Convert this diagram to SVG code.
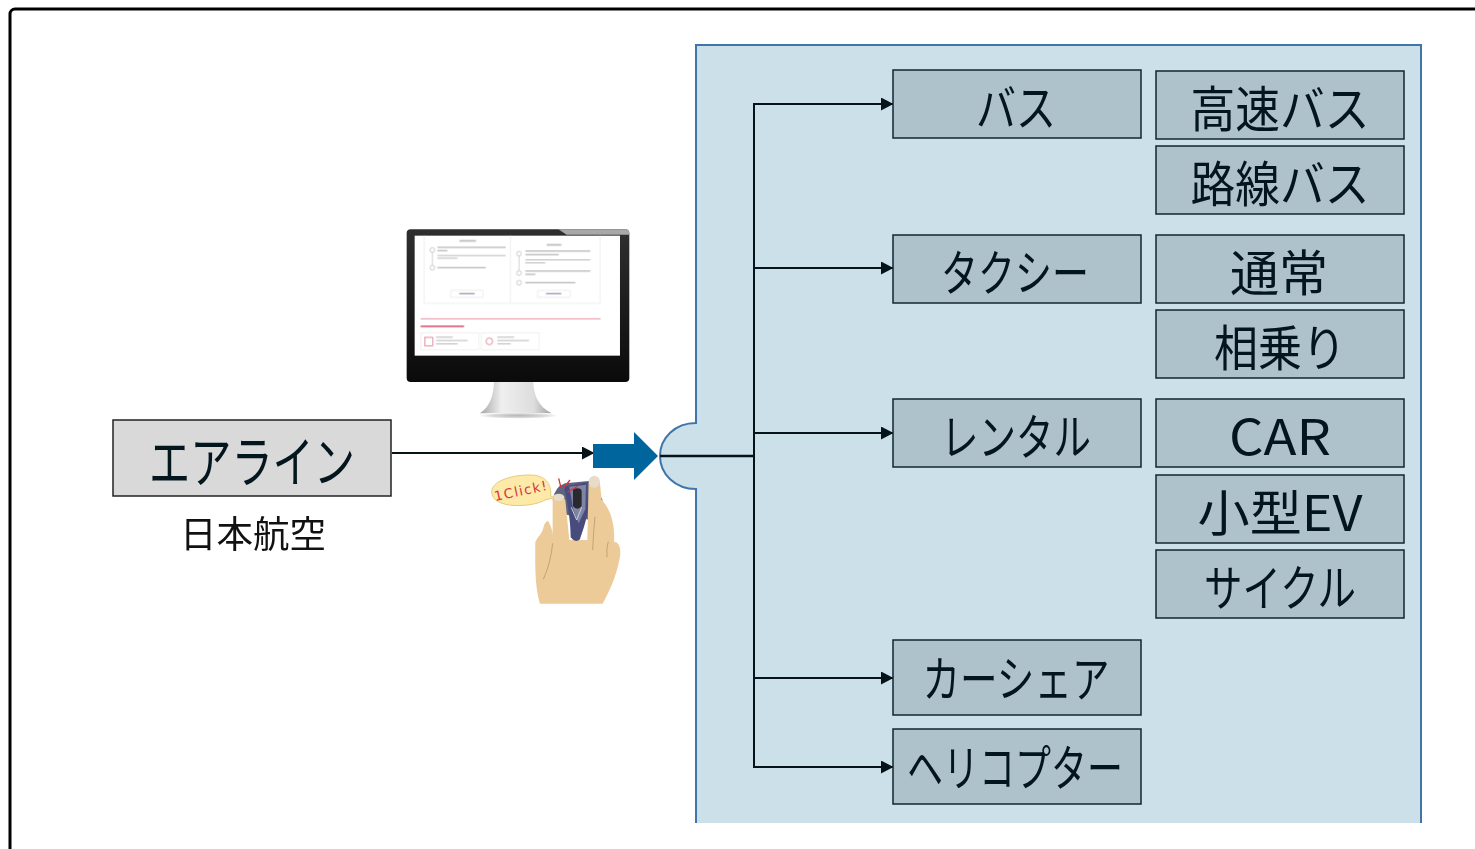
<svg xmlns="http://www.w3.org/2000/svg" width="1475" height="849" viewBox="0 0 1475 849">
<style>
.n{fill:#aec2cb;stroke:#10262f;stroke-width:1.5}
.t{font-family:"Noto Sans CJK JP","Noto Sans",sans-serif;font-size:49px;fill:#04161d;text-anchor:middle}
.c{fill:none;stroke:#06141a;stroke-width:2}
.s{fill:#8b8b8b;opacity:.6}
.r{fill:#e58a9a;opacity:.55}
.b{fill:none;stroke:#e6e6e6;stroke-width:2}
</style>
<defs>
<marker id="a" markerWidth="14" markerHeight="14" refX="12" refY="6.5" orient="auto" markerUnits="userSpaceOnUse"><path d="M0 0L12.500 6.500L0 13Z" fill="#06141a"/></marker>
<linearGradient id="st" x1="0" x2="1" y1="0" y2="0"><stop offset="0" stop-color="#a5a5a5"/><stop offset=".3" stop-color="#efefef"/><stop offset=".75" stop-color="#dddddd"/><stop offset="1" stop-color="#a0a0a0"/></linearGradient>
<linearGradient id="ch" x1="0" x2="0" y1="0" y2="1"><stop offset="0" stop-color="#2f2f2f"/><stop offset="1" stop-color="#0a0a0a"/></linearGradient>
<radialGradient id="ft"><stop offset="0" stop-color="#b5b5b5"/><stop offset=".7" stop-color="#dcdcdc"/><stop offset="1" stop-color="#fff"/></radialGradient>
<filter id="bl" x="-5%" y="-5%" width="110%" height="110%"><feGaussianBlur stdDeviation="1.6"/></filter>
</defs>
<rect id="frame" x="10" y="9" width="1480" height="860" rx="5" fill="#fff" stroke="#000" stroke-width="3"/>
<g id="panel">
<path d="M696 823V489C675 489 660 474 660 456C660 438 675 423 696 423V45H1421V823Z" fill="#cce0ea"/>
<path d="M696 823V489C675 489 660 474 660 456C660 438 675 423 696 423V45H1421V823" fill="none" stroke="#3f75a8" stroke-width="2"/>
</g>
<g id="monitor" transform="translate(400 220) scale(.3333)">
<path d="M282 480H400C400 525 415 560 455 580H240C270 560 282 525 282 480Z" fill="url(#st)"/>
<ellipse cx="355" cy="587" rx="120" ry="9" fill="url(#ft)"/>
<rect x="20" y="28" width="668" height="458" rx="12" fill="url(#ch)"/>
<path d="M475 28H676Q688 28 688 40V44H500Z" fill="#a8a8a8"/>
<rect x="44" y="47" width="616" height="360" fill="#fff"/>
<g filter="url(#bl)">
<path d="M72 47V250H600V47M331 47V250" class="b"/>
<rect x="178" y="60" width="50" height="5" class="s"/><rect x="440" y="72" width="44" height="5" class="s"/>
<circle cx="97" cy="90" r="7" fill="#fff" stroke="#999" stroke-width="1.5"/><circle cx="97" cy="143" r="7" fill="#fff" stroke="#999" stroke-width="1.5"/>
<path d="M97 97V136M357 108V152" stroke="#bbb" stroke-width="2"/>
<circle cx="357" cy="101" r="7" fill="#fff" stroke="#999" stroke-width="1.500"/><circle cx="357" cy="159" r="7" fill="#fff" stroke="#999" stroke-width="1.500"/><circle cx="357" cy="188" r="7" fill="#fff" stroke="#999" stroke-width="1.500"/>
<rect x="112" y="80" width="205" height="4" class="s"/><rect x="112" y="90" width="30" height="4" class="s"/><rect x="112" y="105" width="205" height="3" class="s"/><rect x="112" y="113" width="60" height="3" class="s"/><rect x="112" y="141" width="145" height="4" class="s"/>
<rect x="376" y="91" width="195" height="4" class="s"/><rect x="376" y="102" width="100" height="4" class="s"/><rect x="376" y="118" width="195" height="3" class="s"/><rect x="376" y="127" width="60" height="3" class="s"/><rect x="376" y="151" width="195" height="4" class="s"/><rect x="376" y="161" width="30" height="4" class="s"/><rect x="376" y="186" width="150" height="4" class="s"/>
<rect x="152" y="211" width="98" height="21" fill="#fff" stroke="#ddd" stroke-width="1.500"/><rect x="413" y="211" width="98" height="21" fill="#fff" stroke="#ddd" stroke-width="1.500"/>
<rect x="178" y="219" width="46" height="4" fill="#9a9ab5"/><rect x="438" y="219" width="46" height="4" fill="#9a9ab5"/>
<rect x="62" y="294" width="540" height="5" class="r"/>
<rect x="62" y="316" width="130" height="6" fill="#d9556f" opacity=".8"/>
<rect x="62" y="338" width="174" height="52" fill="#fff" stroke="#e8e8e8" stroke-width="2"/><rect x="244" y="338" width="174" height="52" fill="#fff" stroke="#e8e8e8" stroke-width="2"/>
<rect x="75" y="352" width="24" height="26" fill="#fff" stroke="#d9556f" stroke-width="2"/>
<circle cx="268" cy="364" r="10" fill="none" stroke="#d9556f" stroke-width="2"/>
<rect x="108" y="350" width="50" height="3" class="s"/><rect x="108" y="360" width="95" height="3" class="s"/><rect x="108" y="370" width="65" height="3" class="s"/>
<rect x="292" y="350" width="50" height="3" class="s"/><rect x="292" y="360" width="95" height="3" class="s"/><rect x="292" y="370" width="40" height="3" class="s"/>
</g>
</g>
<g id="mouse-hand" transform="translate(480 420) scale(.3333)">
<path d="M218 240Q225 200 255 190L335 182L368 240L330 300L240 280Z" fill="#5b6480"/>
<path d="M180 551C165 500 165 440 166 365C175 350 186 340 190 325C193 310 200 300 206 305C214 320 218 335 218 345L218 240Q235 212 256 240L268 360H322L326 190Q342 160 360 190L365 240C395 270 405 320 402 365C415 365 424 380 420 410C410 470 385 520 368 551Z" fill="#eccb98"/>
<path d="M252 200L322 186L324 260C322 300 305 340 300 358Q285 370 272 352C272 310 264 250 252 200Z" fill="#474c7c"/>
<path d="M268 200L318 194L316 268L296 310L280 270Z" fill="#7d84a6"/>
<path d="M279 216Q277 205 292 205Q306 205 305 216L305 258Q292 275 279 258Z" fill="#2a2a2e"/>
<path d="M274 262L290 300L305 262" fill="none" stroke="#d0d0d0" stroke-width="3"/>
<ellipse cx="236" cy="232" rx="17" ry="11" fill="#e8dcc8"/>
<ellipse cx="343" cy="185" rx="17" ry="18" fill="#e8dcc8"/>
<path d="M345 290Q340 340 338 390M385 365Q378 385 381 412M218 370Q212 430 190 478" fill="none" stroke="#a98f68" stroke-width="2"/>
<path d="M35 215C35 185 90 165 150 165C195 165 215 190 212 228L222 233L195 240C160 262 35 270 35 215Z" fill="#fdeaa8" stroke="#e6c877" stroke-width="3"/>
<text x="126" y="226" transform="rotate(-12 126 226)" text-anchor="middle" font-family="DejaVu Sans,sans-serif" font-size="40" letter-spacing="4" fill="#d6343f">1Click!</text>
<path d="M236 175L243 203M270 180L250 205M262 217L294 198" stroke="#d6343f" stroke-width="4" fill="none"/>
</g>
<g id="connectors">
<path class="c" d="M392 453H594" marker-end="url(#a)"/>
<path class="c" style="stroke-width:2.5" d="M660 456H754"/>
<path class="c" d="M754 456V104H893" marker-end="url(#a)"/>
<path class="c" d="M754 268H893" marker-end="url(#a)"/>
<path class="c" d="M754 433H893" marker-end="url(#a)"/>
<path class="c" d="M754 456V678H893" marker-end="url(#a)"/>
<path class="c" d="M754 678V767H893" marker-end="url(#a)"/>
<path d="M593 444H634V432L658 456L634 480V468H593Z" fill="#00659c"/>
</g>
<g id="airline"><rect x="113" y="420" width="278" height="76" fill="#d9d9d9" stroke="#222" stroke-width="1.5"/><text class="t" x="252" y="482" style="font-size:55px" textLength="206" lengthAdjust="spacingAndGlyphs">エアライン</text></g>
<text id="jal" x="253" y="548" font-family="Noto Sans CJK JP,sans-serif" font-size="37" text-anchor="middle" fill="#111" textLength="146" lengthAdjust="spacingAndGlyphs">日本航空</text>
<g id="bus"><rect class="n" x="893" y="70" width="248" height="68"/><text class="t" x="1016" y="126" textLength="80" lengthAdjust="spacingAndGlyphs">バス</text></g>
<g id="highway-bus"><rect class="n" x="1156" y="71" width="248" height="68"/><text class="t" x="1280" y="127" textLength="179" lengthAdjust="spacingAndGlyphs">高速バス</text></g>
<g id="route-bus"><rect class="n" x="1156" y="146" width="248" height="68"/><text class="t" x="1280" y="202" textLength="179" lengthAdjust="spacingAndGlyphs">路線バス</text></g>
<g id="taxi"><rect class="n" x="893" y="235" width="248" height="68"/><text class="t" x="1015" y="291" textLength="148" lengthAdjust="spacingAndGlyphs">タクシー</text></g>
<g id="normal"><rect class="n" x="1156" y="235" width="248" height="68"/><text class="t" x="1279" y="291" textLength="98" lengthAdjust="spacingAndGlyphs">通常</text></g>
<g id="shared"><rect class="n" x="1156" y="310" width="248" height="68"/><text class="t" x="1280" y="366" textLength="132" lengthAdjust="spacingAndGlyphs">相乗り</text></g>
<g id="rental"><rect class="n" x="893" y="399" width="248" height="68"/><text class="t" x="1016" y="455" textLength="150" lengthAdjust="spacingAndGlyphs">レンタル</text></g>
<g id="car"><rect class="n" x="1156" y="399" width="248" height="68"/><text class="t" x="1280" y="455" textLength="102" lengthAdjust="spacingAndGlyphs">CAR</text></g>
<g id="small-ev"><rect class="n" x="1156" y="475" width="248" height="68"/><text class="t" x="1280" y="531" textLength="165" lengthAdjust="spacingAndGlyphs">小型EV</text></g>
<g id="cycle"><rect class="n" x="1156" y="550" width="248" height="68"/><text class="t" x="1280" y="606" textLength="152" lengthAdjust="spacingAndGlyphs">サイクル</text></g>
<g id="carshare"><rect class="n" x="893" y="640" width="248" height="75"/><text class="t" x="1016" y="697" textLength="187" lengthAdjust="spacingAndGlyphs">カーシェア</text></g>
<g id="heli"><rect class="n" x="893" y="729" width="248" height="75"/><text class="t" x="1015" y="786" textLength="216" lengthAdjust="spacingAndGlyphs">ヘリコプター</text></g>
</svg>
